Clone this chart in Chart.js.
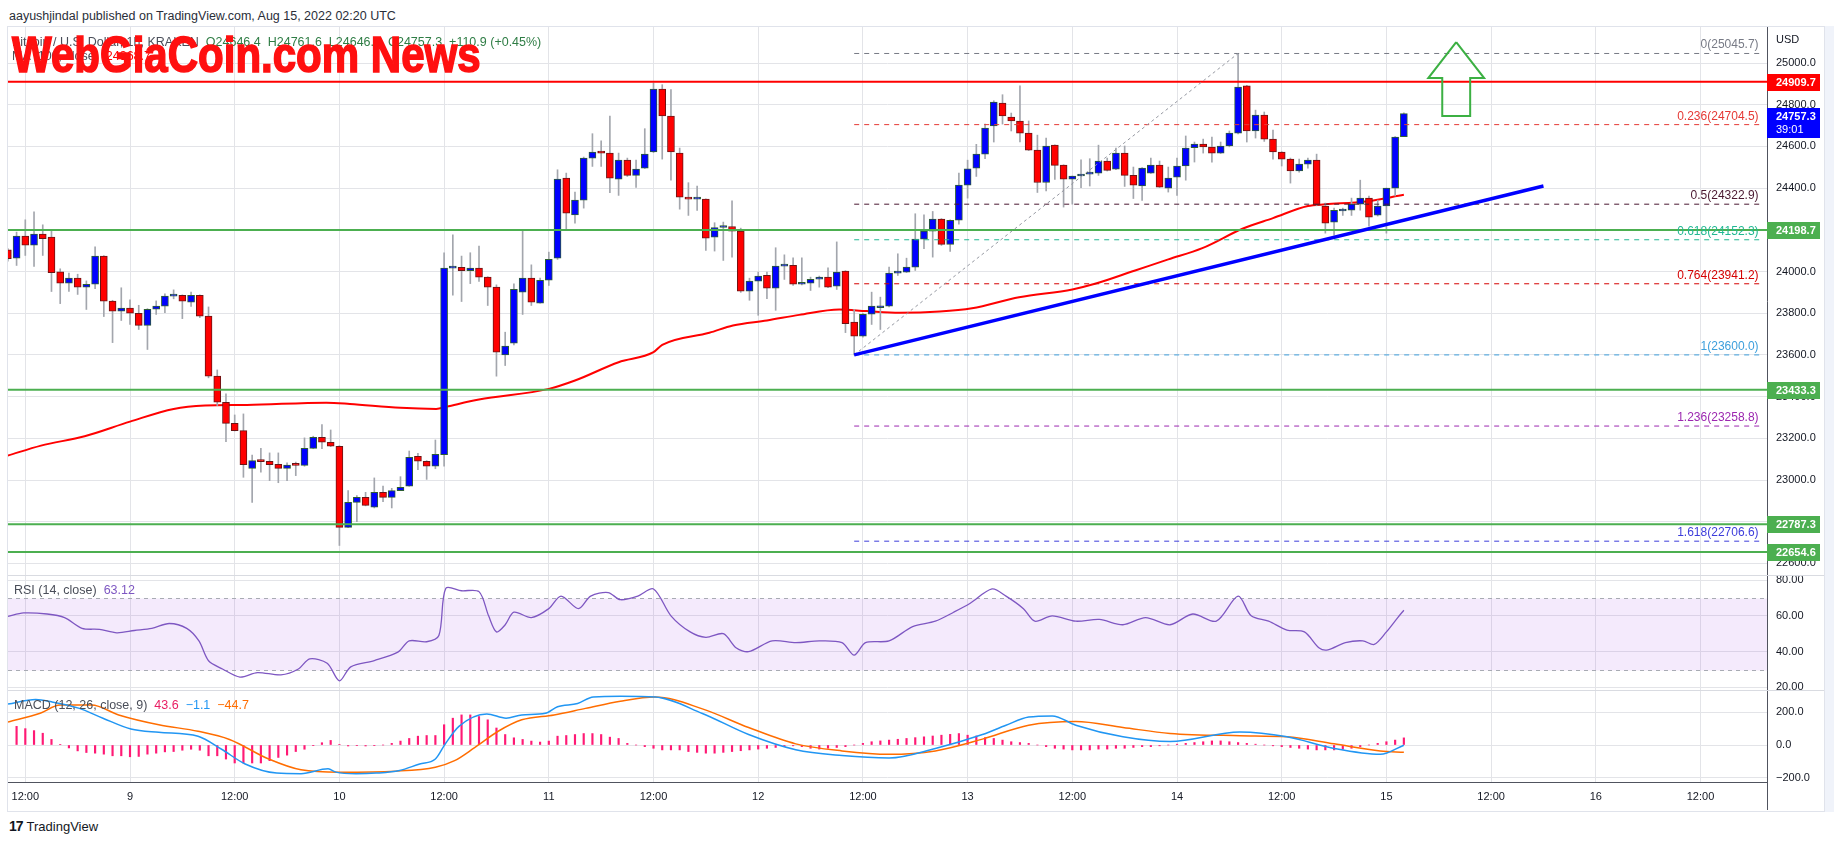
<!DOCTYPE html>
<html>
<head>
<meta charset="utf-8">
<script src="https://cdn.jsdelivr.net/npm/chart.js@4.4.0/dist/chart.umd.min.js"></script>
<style>
body{margin:0;width:1834px;height:845px;background:#fff;position:relative;overflow:hidden;font-family:"Liberation Sans",Arial,sans-serif;color:#131722}
canvas{position:absolute}
.abs{position:absolute;white-space:nowrap}
#frame{position:absolute;left:7px;top:26px;width:1816px;height:784px;border:1px solid #e0e3eb}
#rstrip{position:absolute;left:1825px;top:26px;width:9px;height:786px;background:#f0f3fa}
.sep{position:absolute;left:8px;width:1816px;height:1px;background:#d9dbe1}
#axisTail{position:absolute;left:1767px;top:782px;width:1px;height:28px;background:#50535e}
#pub{left:9px;top:9px;font-size:12.5px;color:#2a2e39}
.leg{font-size:12.5px;line-height:14px;color:#4a4e59}
#wm{left:12px;top:30px;font:bold 50px "Liberation Sans Narrow","Liberation Sans",sans-serif;line-height:50px;color:#ff1010;-webkit-text-stroke:1.6px #ff1010;transform-origin:0 0}
#logo{left:9px;top:818px;font-size:13px;line-height:16px;color:#131722}
#logo b{font-size:14px;letter-spacing:-1px;margin-right:4px}
</style>
</head>
<body>
<div id="pub" class="abs">aayushjindal published on TradingView.com, Aug 15, 2022 02:20 UTC</div>
<div id="frame"></div>
<div id="rstrip"></div>
<canvas id="cPrice" width="1816" height="548" style="left:8px;top:27px"></canvas>
<canvas id="cRsi" width="1816" height="115" style="left:8px;top:575px"></canvas>
<canvas id="cMacd" width="1816" height="125" style="left:8px;top:690px"></canvas>
<div class="sep" style="top:575px"></div>
<div class="sep" style="top:690px"></div>
<div id="axisTail"></div>
<div class="abs leg" style="left:12px;top:35px"><span>Bitcoin / U.S. Dollar, 1h, KRAKEN</span>&nbsp; <span style="color:#2f7d45">O24646.4&nbsp; H24761.6&nbsp; L24646.4&nbsp; C24757.3&nbsp; +110.9 (+0.45%)</span></div>
<div class="abs leg" style="left:12px;top:49px"><span>MA (100, close)</span>&nbsp; <span style="color:#ff0000">24368.7</span></div>
<div class="abs leg" style="left:14px;top:583px"><span>RSI (14, close)</span>&nbsp; <span style="color:#7e57c2">63.12</span></div>
<div class="abs leg" style="left:14px;top:698px"><span>MACD (12, 26, close, 9)</span>&nbsp; <span style="color:#e91e63">43.6</span>&nbsp; <span style="color:#2196f3">&minus;1.1</span>&nbsp; <span style="color:#ff6d00">&minus;44.7</span></div>
<div id="wm" class="abs"><span id="wmText">WebGiaCoin.com News</span></div>
<div id="logo" class="abs"><b>17</b>TradingView</div>

<script>
// hours counted from Aug 9 2022 00:00 UTC, one candle per hour
const firstHour = -14;
const tickHours = [-12, 0, 12, 24, 36, 48, 60, 72, 84, 96, 108, 120, 132, 144, 156, 168, 180];
const timeLabels = ['12:00', '9', '12:00', '10', '12:00', '11', '12:00', '12', '12:00', '13', '12:00', '14', '12:00', '15', '12:00', '16', '12:00'];

const opens = [
  24104,24064,24170,24126,24179,24165,23998,23944,23968,23925,
  23939,24074,23858,23810,23824,23800,23742,23819,23834,23882,
  23886,23853,23886,23786,23498,23373,23272,23237,23056,23093,
  23090,23075,23056,23072,23070,23152,23205,23181,23162,22773,
  22893,22917,22870,22941,22917,22949,22970,23114,23090,23066,
  23122,24016,24020,24004,24016,23973,23925,23600,23656,23901,
  23968,23848,23958,24064,24448,24272,24342,24544,24578,24568,
  24443,24534,24461,24496,24573,24875,24746,24568,24357,24347,
  24347,24165,24211,24216,24194,23906,23954,23982,23920,24026,
  24030,23939,23944,23963,23973,23930,24002,23757,23690,23795,
  23826,23834,23992,23997,24021,24155,24194,24251,24130,24246,
  24414,24496,24563,24698,24808,24741,24722,24664,24582,24427,
  24606,24510,24443,24458,24467,24472,24530,24491,24568,24461,
  24410,24472,24510,24400,24453,24506,24594,24611,24597,24568,
  24602,24664,24890,24674,24750,24635,24573,24539,24482,24515,
  24534,24314,24237,24290,24294,24323,24352,24270,24314,24400,
  24646.4];
const highs = [
  24110,24189,24248,24286,24224,24194,24013,23992,23987,23955,
  24118,24076,23862,23922,23864,23838,23822,23859,23893,23912,
  23888,23901,23888,23830,23528,23413,23312,23317,23120,23152,
  23130,23130,23082,23086,23202,23210,23266,23240,23165,22949,
  22925,22941,23010,22971,22960,23016,23139,23128,23093,23192,
  24090,24176,24074,24090,24122,23975,23936,23709,23941,24197,
  24032,23968,24093,24488,24472,24381,24549,24661,24627,24746,
  24568,24544,24534,24685,24904,24896,24872,24592,24426,24410,
  24349,24234,24237,24339,24208,23968,23997,23997,24114,24080,
  24066,24066,23973,23978,24018,24142,24004,23818,23800,23901,
  23877,24021,24085,24064,24277,24272,24288,24254,24248,24472,
  24534,24610,24707,24819,24848,24760,24890,24722,24654,24640,
  24608,24512,24458,24536,24541,24606,24544,24592,24602,24501,
  24498,24544,24530,24501,24544,24650,24621,24635,24645,24621,
  24674,25045.7,24893,24774,24765,24678,24575,24544,24539,24544,
  24563,24328,24304,24304,24352,24438,24362,24342,24400,24647,
  24761.6];
const lows = [
  24050,24029,24077,24024,24077,23904,23846,23904,23890,23818,
  23918,23784,23659,23765,23746,23722,23626,23794,23803,23869,
  23774,23832,23779,23490,23357,23184,23235,23013,22893,23037,
  22997,22987,22997,23021,23066,23150,23150,23160,22686,22771,
  22800,22876,22866,22896,22866,22949,22970,23050,23003,23054,
  23066,23886,23856,23942,23952,23837,23498,23549,23648,23794,
  23837,23848,23933,24058,24205,24232,24304,24504,24504,24378,
  24365,24456,24403,24494,24570,24539,24438,24299,24269,24293,
  24101,24098,24053,24069,23900,23862,23790,23870,23814,23962,
  23933,23936,23909,23925,23923,23914,23707,23600,23685,23746,
  23722,23830,23981,23995,24005,24109,24069,24125,24096,24227,
  24352,24456,24541,24621,24707,24674,24621,24580,24379,24386,
  24442,24309,24323,24402,24410,24461,24482,24488,24408,24350,
  24341,24470,24403,24381,24365,24438,24525,24568,24525,24566,
  24598,24660,24621,24640,24624,24539,24506,24424,24477,24496,
  24315,24184,24174,24269,24269,24294,24218,24266,24184,24362,
  24646.4];
const closes = [
  24061,24170,24126,24179,24158,23995,23944,23968,23925,23939,
  24074,23858,23810,23824,23800,23742,23819,23834,23882,23886,
  23858,23886,23786,23498,23373,23272,23237,23074,23093,23088,
  23074,23056,23072,23070,23152,23205,23181,23162,22773,22893,
  22917,22878,22941,22917,22949,22965,23109,23090,23066,23123,
  24016,24020,24004,24016,23973,23925,23613,23642,23915,23968,
  23853,23958,24059,24443,24280,24342,24544,24573,24568,24448,
  24534,24461,24491,24563,24875,24746,24573,24357,24347,24349,
  24160,24211,24216,24194,23906,23954,23978,23920,24026,24029,
  23939,23942,23963,23973,23925,23997,23750,23690,23795,23834,
  23834,23992,23997,24021,24155,24194,24251,24130,24246,24414,
  24493,24563,24688,24813,24746,24722,24664,24582,24427,24602,
  24509,24443,24458,24467,24472,24530,24485,24568,24461,24414,
  24496,24510,24405,24448,24506,24592,24611,24597,24568,24602,
  24664,24885,24674,24750,24635,24573,24539,24482,24515,24534,
  24318,24232,24294,24294,24323,24352,24261,24314,24400,24645,
  24757.3];

// 100 MA
const maHours  = [-14, -10.2, -5.2, 0, 5, 8.6, 13.4, 22.5, 25.2, 31, 35.1, 36.3, 40, 48, 51, 56, 60, 61, 66.4, 69.1, 73, 76.7, 81.3, 84.4, 88.2, 92.8, 96.5, 101.9, 108, 110.6, 115.2, 119, 122.9, 127.5, 131, 135, 137, 141.6, 146];
const maValues = [23117, 23165, 23210, 23280, 23341, 23357, 23360, 23371, 23365, 23346, 23341, 23352, 23386, 23437, 23477, 23565, 23613, 23648, 23706, 23741, 23765, 23792, 23818, 23810, 23802, 23808, 23824, 23877, 23914, 23941, 24005, 24058, 24112, 24205, 24256, 24314, 24322, 24336, 24368];

// drawings
const levelPrices = [24909.7, 24198.7, 23433.3, 22787.3, 22654.6];
const levelColors = ['#ff0000', '#4caf50', '#4caf50', '#4caf50', '#4caf50'];
const trendHours = [83, 162];
const trendPrices = [23600, 24410];
const fibStart = 83, fibEnd = 187, fibHigh = 127;
const fibLabels = ['0', '0.236', '0.5', '0.618', '0.764', '1', '1.236', '1.618'];
const fibPrices = [25045.7, 24704.5, 24322.9, 24152.3, 23941.2, 23600.0, 23258.8, 22706.6];
const fibColors = ['#787b86', '#e53935', '#4a1830', '#22b893', '#d50000', '#3d9fdc', '#9c27b0', '#3d3ddb'];
const arrowHours  = [152, 155.2, 153.6, 153.6, 150.4, 150.4, 148.8, 152];
const arrowPrices = [25100, 24928, 24928, 24746, 24746, 24928, 24928, 25100];
const lastPrice = 24757.3, countdown = '39:01';

// RSI (14)
const rsiHours  = [-13.98, -12.2, -9.5, -7.5, -5.5, -3.5, -1.5, 0.5, 2.5, 4.5, 6.5, 7.9, 9, 10.6, 12.6, 14.6, 17.3, 19.3, 20.6, 22.6, 24, 25.3, 28, 30.7, 32, 34, 35.4, 36.2, 38, 40, 41.1, 42, 43, 44, 46, 48, 49.4, 51.4, 52.8, 54.8, 56.2, 58.2, 60, 62, 64.2, 66, 68, 69.5, 70.9, 73.6, 76.3, 79, 81.6, 83, 84.3, 87, 89.7, 92.3, 94.4, 96.3, 98.8, 100.4, 102.4, 103.7, 105.7, 108.4, 111.1, 113.8, 116.4, 119.2, 121.8, 124.5, 127, 128.5, 130.5, 132.6, 134.6, 136.3, 137.3, 139.3, 141.3, 142.6, 144, 145.3, 146];
const rsiValues = [59.7, 61.6, 61, 59, 53, 52.4, 50.5, 51.8, 53, 55.7, 53, 46, 34.9, 30.3, 25.8, 28.3, 27, 30.3, 36, 33.5, 23.7, 31.5, 35, 39.7, 46, 45.5, 49, 75.4, 74, 73.5, 60, 51, 55, 62, 59, 64, 71, 64, 71, 73, 69, 71, 75, 60, 51, 48, 50, 42, 40, 46, 45, 46, 45, 38, 45, 46, 54, 57, 62, 67, 75, 71, 64, 57, 60, 57, 58, 55, 59, 55, 61, 57, 71, 60, 57, 52, 51, 42, 41, 45, 46, 44, 51, 59, 63.12];

// MACD (12, 26, 9)
const histFirstHour = -13;
const histValues = [
  114,100,88,72,34,4,-18,-36,-46,-50,
  -56,-66,-66,-72,-70,-56,-50,-42,-40,-32,
  -26,-32,-66,-66,-86,-110,-110,-110,-110,-96,
  -76,-62,-40,-26,-2,14,28,4,-6,-4,
  -6,-2,0,10,24,40,54,58,58,124,
  164,184,184,174,154,104,64,44,34,24,
  18,24,54,58,64,70,70,64,48,40,
  10,0,-10,-20,-30,-30,-30,-40,-45,-50,
  -50,-45,-40,-35,-30,-25,-20,-15,-10,-5,
  -10,-20,-25,-20,-15,-10,0,10,20,25,
  30,35,40,45,50,55,60,65,70,60,
  55,45,40,30,20,15,10,0,-10,-20,
  -25,-30,-30,-30,-25,-25,-20,-20,-15,-10,
  -10,-5,0,5,10,15,20,25,25,20,
  15,10,5,0,-5,-10,-15,-20,-25,-30,
  -30,-30,-25,-20,-10,0,10,20,30,43.6];
const macdHours  = [-13.98, -10.8, -9, -5.8, -3.1, 0.1, 3.3, 7.8, 10.5, 13.2, 16.8, 19.6, 22.7, 23.6, 25.9, 28.2, 30.9, 33.2, 35, 36.1, 37.7, 40.9, 43.1, 44.9, 47.6, 49, 51.3, 53.1, 56.2, 60.2, 65.6, 70.9, 76.3, 81.6, 87, 92.3, 97.7, 100.4, 103, 105.7, 108.4, 113.8, 119.2, 127.2, 132.6, 138, 143.3, 146];
const macdValues = [250, 278, 264, 224, 164, 98, 78, 54, -26, -116, -172, -176, -146, -166, -176, -172, -156, -116, -86, 4, 114, 190, 164, 184, 194, 234, 254, 294, 298, 293, 193, 64, -29, -64, -79, -21, 64, 121, 171, 178, 121, 50, 21, 79, 50, -21, -57, -1.1];
const sigHours  = [-13.98, -10.3, -8, -4.4, -1.3, 3.3, 7.8, 11.4, 15.9, 19.6, 24.1, 30.4, 35, 37.2, 39.5, 42.2, 44.9, 48.6, 52.2, 56.2, 60.2, 65.6, 70.9, 76.3, 81.6, 87, 92.3, 97.7, 103, 108.4, 113.8, 119.2, 127.2, 132.6, 138, 143.3, 146];
const sigValues = [140, 194, 244, 244, 184, 124, 84, 34, -86, -152, -166, -160, -136, -96, -16, 84, 154, 184, 224, 268, 293, 221, 107, 7, -36, -57, -36, 36, 121, 143, 107, 71, 57, 50, 7, -36, -44.7];

const priceTicks = [22600, 22800, 23000, 23200, 23400, 23600, 23800, 24000, 24200, 24400, 24600, 24800, 25000];
const rsiTicks = [20, 40, 60, 80];
const macdTicks = [-200, 0, 200];

const FONT = '"Liberation Sans", Arial, sans-serif';
const GRID = '#e3e4e8';
const AXIS = '#50535e';
const TXT = '#131722';
const H0 = -13.983, H1 = 187.62;

Chart.defaults.font.family = FONT;

function pts(xs, ys) { return xs.map((x, i) => ({x: x, y: ys[i]})); }

function xScale(show) {
  return {
    type: 'linear', min: H0, max: H1, offset: false,
    afterBuildTicks: s => { s.ticks = tickHours.map(v => ({value: v})); },
    ticks: { display: show, autoSkip: false, maxRotation: 0, padding: 8, color: TXT, font: {size: 11},
             callback: v => timeLabels[tickHours.indexOf(v)] },
    grid: { color: GRID, drawTicks: false, offset: false },
    border: { display: show, color: AXIS },
    afterFit: s => { s.height = show ? 33 : 0; s.paddingLeft = 0; s.paddingRight = 0; }
  };
}
function yScale(min, max, ticks, fmt) {
  return {
    position: 'right', min: min, max: max,
    afterBuildTicks: s => { s.ticks = ticks.map(v => ({value: v})); },
    ticks: { padding: 9, color: TXT, font: {size: 11}, callback: fmt },
    grid: { color: GRID, drawTicks: false },
    border: { color: AXIS },
    afterFit: s => { s.width = 57; s.paddingTop = 0; s.paddingBottom = 0; }
  };
}
function opts(y, showX) {
  return {
    responsive: false, animation: false, events: [],
    layout: { padding: 0 },
    plugins: { legend: {display: false}, tooltip: {enabled: false} },
    scales: { x: xScale(showX), y: y }
  };
}

// candles
const hoursOf = opens.map((_, i) => firstHour + i);
const isUp = opens.map((o, i) => closes[i] >= o);
const bodyData = hoursOf.map((h, i) => ({x: h, y: [opens[i], closes[i]]}));
const wickData = hoursOf.map((h, i) => ({x: h, y: [lows[i], highs[i]]}));

const priceDatasets = [
  { type: 'line', data: pts(arrowHours, arrowPrices), borderColor: '#3cb043', borderWidth: 2, pointRadius: 0, tension: 0, borderJoinStyle: 'miter', order: 0 },
  { type: 'line', data: pts(trendHours, trendPrices), borderColor: '#0000ff', borderWidth: 3.5, pointRadius: 0, order: 0 },
  { type: 'line', data: pts([fibStart, fibHigh], [fibPrices[5], fibPrices[0]]), borderColor: '#9598a1', borderWidth: 1, borderDash: [3, 3], pointRadius: 0, order: 1 }
];
fibPrices.forEach((p, i) => priceDatasets.push({
  type: 'line', data: pts([fibStart, fibEnd], [p, p]), borderColor: fibColors[i], borderWidth: 1, borderDash: [5, 5], pointRadius: 0, order: 1
}));
levelPrices.forEach((p, i) => priceDatasets.push({
  type: 'line', data: pts([H0 - 1, H1 + 1], [p, p]), borderColor: levelColors[i], borderWidth: 2, pointRadius: 0, order: 2
}));
priceDatasets.push(
  { type: 'bar', data: bodyData, grouped: false, barThickness: 7, minBarLength: 2, borderWidth: 1, borderSkipped: false,
    backgroundColor: isUp.map(u => u ? '#0000ff' : '#ff0000'), borderColor: isUp.map(u => u ? '#2d5e32' : '#6b1414'), order: 3 },
  { type: 'bar', data: wickData, grouped: false, barThickness: 1, borderWidth: 0,
    backgroundColor: '#a3a6ad', order: 4 },
  { type: 'line', data: pts(maHours, maValues), borderColor: '#ff0000', borderWidth: 2, pointRadius: 0, cubicInterpolationMode: 'monotone', order: 5 }
);

const priceDecor = {
  id: 'priceDecor',
  afterDraw(chart) {
    const {ctx, chartArea: a, scales: {x, y}} = chart;
    ctx.save();
    ctx.font = '12px ' + FONT;
    ctx.textAlign = 'right';
    ctx.textBaseline = 'alphabetic';
    const xr = x.getPixelForValue(fibEnd) - 3;
    fibPrices.forEach((p, i) => {
      ctx.fillStyle = fibColors[i];
      ctx.fillText(fibLabels[i] + '(' + p.toFixed(1) + ')', xr, y.getPixelForValue(p) - 5);
    });
    ctx.textAlign = 'left';
    ctx.textBaseline = 'middle';
    ctx.fillStyle = TXT;
    ctx.font = '11px ' + FONT;
    ctx.fillText('USD', a.right + 9, 13);
    ctx.font = 'bold 11px ' + FONT;
    levelPrices.forEach((p, i) => {
      const py = Math.round(y.getPixelForValue(p));
      ctx.fillStyle = levelColors[i];
      ctx.fillRect(a.right, py - 8, 53, 17);
      ctx.fillStyle = '#fff';
      ctx.fillText(p.toFixed(1), a.right + 9, py + 1);
    });
    const ly = Math.round(y.getPixelForValue(lastPrice));
    ctx.fillStyle = '#0000ff';
    ctx.fillRect(a.right, ly - 6, 53, 30);
    ctx.fillStyle = '#fff';
    ctx.fillText(lastPrice.toFixed(1), a.right + 9, ly + 3);
    ctx.font = '11px ' + FONT;
    ctx.fillText(countdown, a.right + 9, ly + 16);
    ctx.restore();
  }
};

new Chart(document.getElementById('cPrice'), {
  type: 'bar',
  data: { datasets: priceDatasets },
  options: opts(yScale(22544.4, 25172.7, priceTicks, v => v.toFixed(1)), false),
  plugins: [priceDecor]
});

// RSI pane
const rsiBand = {
  id: 'rsiBand',
  beforeDatasetsDraw(chart) {
    const {ctx, chartArea: a, scales: {y}} = chart;
    const y70 = Math.round(y.getPixelForValue(70)) + 0.5, y30 = Math.round(y.getPixelForValue(30)) + 0.5;
    ctx.save();
    ctx.fillStyle = 'rgba(155, 60, 230, 0.11)';
    ctx.fillRect(a.left, y70, a.right - a.left, y30 - y70);
    ctx.strokeStyle = '#a8abb3';
    ctx.setLineDash([4, 4]);
    ctx.lineWidth = 1;
    ctx.beginPath();
    ctx.moveTo(a.left, y70); ctx.lineTo(a.right, y70);
    ctx.moveTo(a.left, y30); ctx.lineTo(a.right, y30);
    ctx.stroke();
    ctx.restore();
  }
};
new Chart(document.getElementById('cRsi'), {
  type: 'line',
  data: { datasets: [
    { data: pts(rsiHours, rsiValues), borderColor: '#7e57c2', borderWidth: 1.3, pointRadius: 0, tension: 0.3 }
  ]},
  options: opts(yScale(18.55, 82.8, rsiTicks, v => v.toFixed(2)), false),
  plugins: [rsiBand]
});

// MACD pane + time axis
const histHours = histValues.map((_, i) => histFirstHour + i);
new Chart(document.getElementById('cMacd'), {
  type: 'bar',
  data: { datasets: [
    { type: 'line', data: pts(macdHours, macdValues), borderColor: '#2196f3', borderWidth: 1.5, pointRadius: 0, cubicInterpolationMode: 'monotone', order: 0 },
    { type: 'line', data: pts(sigHours, sigValues), borderColor: '#ff6d00', borderWidth: 1.5, pointRadius: 0, cubicInterpolationMode: 'monotone', order: 1 },
    { type: 'bar', data: pts(histHours, histValues), grouped: false, barThickness: 1.5, backgroundColor: '#ff1a75', order: 2 }
  ]},
  options: opts(yScale(-226.3, 336.4, macdTicks, v => (v < 0 ? '\u2212' : '') + Math.abs(v).toFixed(1)), true)
});

// fit watermark width to the picture
const wmText = document.getElementById('wmText');
document.getElementById('wm').style.transform = 'scaleX(' + (469 / wmText.offsetWidth) + ')';
</script>
</body>
</html>
